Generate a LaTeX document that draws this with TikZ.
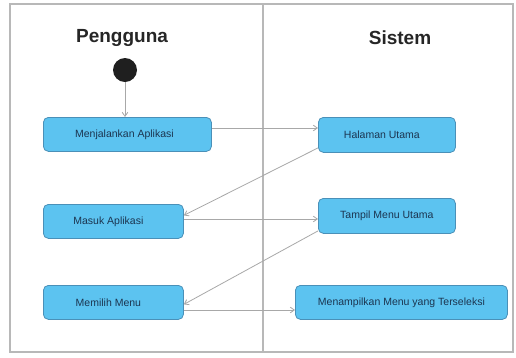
\documentclass[tikz,border=0pt]{standalone}
\usepackage{fontspec}
\setmainfont{Liberation Sans}
\usetikzlibrary{arrows.meta}
\definecolor{boxfill}{HTML}{5CC3F0}
\definecolor{boxline}{HTML}{4A90B8}
\definecolor{boxtext}{HTML}{1C3550}
\definecolor{conn}{HTML}{A8A8A8}
\definecolor{frame}{HTML}{B8B8B8}
\tikzset{
  act/.style={draw=boxline, fill=boxfill, rounded corners=5pt, line width=0.8pt, font=\fontsize{10.5}{12}\selectfont, text=boxtext, inner sep=0pt, anchor=north west},
  flow/.style={draw=conn, line width=0.8pt, -{Straight Barb[angle=70:5pt]}},
  lane/.style={font=\bfseries\fontsize{19}{22}\selectfont, text=black!85}
}
\begin{document}
\begin{tikzpicture}[x=1pt,y=-1pt]
\useasboundingbox (0,0) rectangle (516,357);
\fill[white] (0,0) rectangle (516,357);
\draw[frame, line width=1.5pt] (10,4) rectangle (513,352);
\draw[frame, line width=1.5pt] (263,4) -- (263,352);
\node[lane] (pg) at (122,38) {Pengguna};
\node[lane] (si) at (400,38) {Sistem};
\node[circle, fill=black!88, minimum size=24pt, inner sep=0pt] (start) at (125,70) {};
\node[act, minimum width=168pt, minimum height=34pt] (b1) at (43,117) {\hspace*{-6pt}Menjalankan Aplikasi};
\node[act, minimum width=137pt, minimum height=35pt] (s1) at (318,117) {\hspace*{-10pt}Halaman Utama};
\node[act, minimum width=140pt, minimum height=34pt] (b2) at (43,204) {\hspace*{-10pt}Masuk Aplikasi};
\node[act, minimum width=137pt, minimum height=35pt] (s2) at (318,198) {Tampil Menu Utama};
\node[act, minimum width=140pt, minimum height=34pt] (b3) at (43,285) {\hspace*{-10pt}Memilih Menu};
\node[act, minimum width=212pt, minimum height=34pt] (s3) at (295,285) {Menampilkan Menu yang Terseleksi};
\draw[flow] (start.south) -- (start.south |- b1.north);
\draw[flow] (b1.east |- 0,128) -- (s1.west |- 0,128);
\draw[flow] ([yshift=-13pt]s1.west) -- ([yshift=6pt]b2.east);
\draw[flow] (b2.east |- 0,219) -- (s2.west |- 0,219);
\draw[flow] ([yshift=-15pt]s2.west) -- ([yshift=-2pt]b3.east);
\draw[flow] (b3.east |- 0,310) -- (s3.west |- 0,310);
\end{tikzpicture}
\end{document}
